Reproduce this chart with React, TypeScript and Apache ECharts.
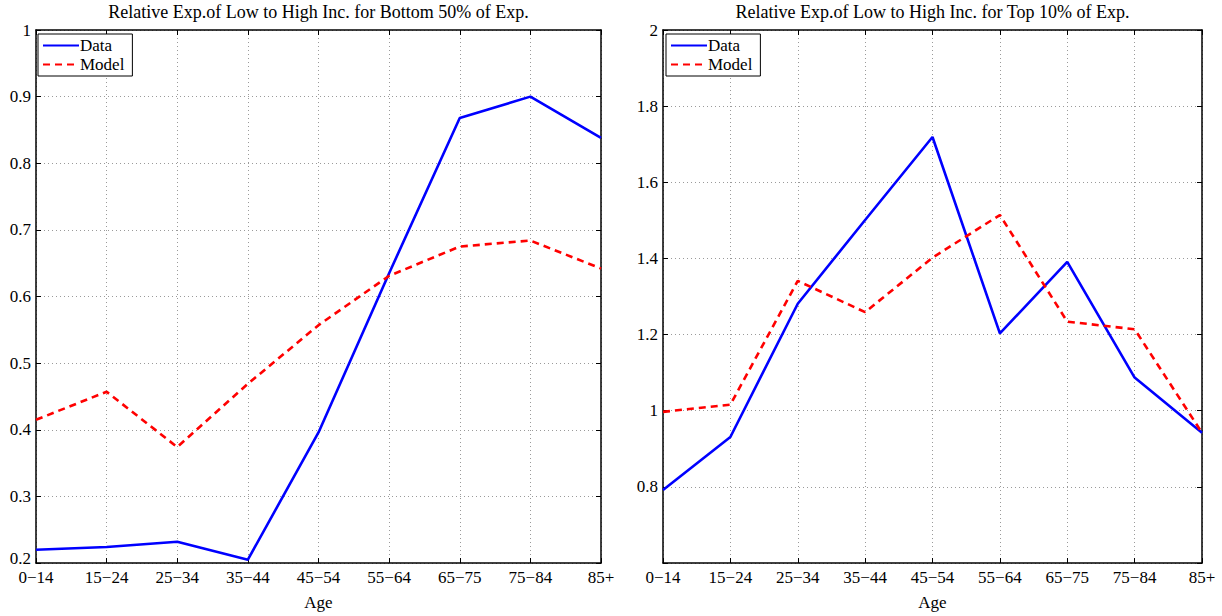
import React, { useEffect, useRef } from "react";
import * as echarts from "echarts";

// Age groups along the horizontal axis
const ageGroups = ["0−14", "15−24", "25−34", "35−44", "45−54", "55−64", "65−75", "75−84", "85+"];

// Bottom 50% of expenditure: relative expenditure of low vs high income
const bottomData = [0.22, 0.224, 0.232, 0.205, 0.396, 0.635, 0.868, 0.9, 0.838];
const bottomModel = [0.415, 0.457, 0.374, 0.469, 0.557, 0.631, 0.675, 0.684, 0.642];

// Top 10% of expenditure
const topData = [0.792, 0.931, 1.281, 1.501, 1.719, 1.203, 1.391, 1.087, 0.942];
const topModel = [0.997, 1.016, 1.341, 1.259, 1.402, 1.514, 1.234, 1.214, 0.942];

const leftTitle = "Relative Exp.of Low to High Inc. for Bottom 50% of Exp.";
const rightTitle = "Relative Exp.of Low to High Inc. for Top 10% of Exp.";
const xName = "Age";
const seriesNames = ["Data", "Model"];

const leftRange = { min: 0.2, max: 1, interval: 0.1 };
const rightRange = { min: 0.6, max: 2, interval: 0.2 };

const FONT = "Liberation Serif";
const W = 1222;
const H = 616;

const grids = [
  { left: 36, top: 30, width: 565, height: 540 },
  { left: 663, top: 30, width: 539, height: 540 },
];

export default function App() {
  const ref = useRef<HTMLDivElement>(null);

  useEffect(() => {
    if (!ref.current) return;
    const chart = echarts.init(ref.current, undefined, { renderer: "svg" });

    // Tick label text; the lowest tick of the left panel is lifted above the corner,
    // the lowest tick of the right panel is left blank.
    const fmt = (panel: number) => (v: number) => {
      const s = String(+v.toFixed(2));
      if (panel === 0 && Math.abs(v - leftRange.min) < 1e-9) return "{lo|" + s + "}";
      if (panel === 1 && Math.abs(v - rightRange.min) < 1e-9) return "";
      return s;
    };

    const frameLine = { show: true, lineStyle: { color: "#000", width: 1.5 } };
    const innerTick = { show: true, inside: true, length: 5, lineStyle: { color: "#000", width: 1 } };
    const dotted = { show: true, lineStyle: { color: "#9a9a9a", type: [1, 3] as any, width: 1 } };

    const xAxes: any[] = [];
    const yAxes: any[] = [];
    [0, 1].forEach((g) => {
      xAxes.push({
        type: "category",
        gridIndex: g,
        data: ageGroups,
        boundaryGap: false,
        position: "bottom",
        name: xName,
        nameLocation: "middle",
        nameGap: 31,
        nameTextStyle: { fontFamily: FONT, fontSize: 17, color: "#000" },
        axisLine: frameLine,
        axisTick: innerTick,
        axisLabel: { fontFamily: FONT, fontSize: 17, color: "#000", margin: 6, interval: 0 },
        splitLine: dotted,
      });
      xAxes.push({
        type: "category",
        gridIndex: g,
        data: ageGroups,
        boundaryGap: false,
        position: "top",
        axisLine: frameLine,
        axisTick: innerTick,
        axisLabel: { show: false },
        splitLine: { show: false },
      });
      const r = g === 0 ? leftRange : rightRange;
      yAxes.push({
        type: "value",
        gridIndex: g,
        position: "left",
        min: r.min,
        max: r.max,
        interval: r.interval,
        axisLine: frameLine,
        axisTick: innerTick,
        axisLabel: {
          fontFamily: FONT,
          fontSize: 17,
          color: "#000",
          margin: 5,
          formatter: fmt(g),
          rich: {
            lo: { fontFamily: FONT, fontSize: 17, color: "#000", padding: [0, 0, 10, 0] },
          },
        },
        splitLine: dotted,
      });
      yAxes.push({
        type: "value",
        gridIndex: g,
        position: "right",
        min: r.min,
        max: r.max,
        interval: r.interval,
        axisLine: frameLine,
        axisTick: innerTick,
        axisLabel: { show: false },
        splitLine: { show: false },
      });
    });

    const dataStyle = { color: "#0000ff", width: 2.6, type: "solid" as const };
    const modelStyle = { color: "#ff0000", width: 2.6, type: [7, 5] as any };

    const mkSeries = (name: string, values: number[], g: number, style: any) => ({
      type: "line",
      name,
      data: values,
      xAxisIndex: g * 2,
      yAxisIndex: g * 2,
      symbol: "none",
      showSymbol: false,
      itemStyle: { color: style.color },
      lineStyle: style,
      z: name === "Data" ? 3 : 4,
    });

    const legendFor = (left: number) => ({
      left,
      top: 34,
      orient: "vertical",
      data: seriesNames,
      backgroundColor: "#fff",
      borderColor: "#000",
      borderWidth: 1,
      padding: [3, 8, 3, 4],
      itemGap: 2,
      itemWidth: 36,
      itemHeight: 18,
      itemStyle: { opacity: 0 },
      textStyle: { fontFamily: FONT, fontSize: 17, color: "#000", padding: [0, 0, 0, -4] },
      selectedMode: false,
    });

    const titleText = (text: string, g: number) => ({
      type: "text",
      x: grids[g].left + grids[g].width / 2,
      y: 3,
      style: {
        text,
        fontFamily: FONT,
        fontSize: 18,
        fill: "#000",
        textAlign: "center",
        textVerticalAlign: "top",
      },
    });

    chart.setOption({
      animation: false,
      backgroundColor: "#fff",
      grid: grids.map((g) => ({ ...g, containLabel: false })),
      xAxis: xAxes,
      yAxis: yAxes,
      legend: [legendFor(grids[0].left + 2), legendFor(grids[1].left + 3)],
      series: [
        mkSeries("Data", bottomData, 0, dataStyle),
        mkSeries("Model", bottomModel, 0, modelStyle),
        mkSeries("Data", topData, 1, dataStyle),
        mkSeries("Model", topModel, 1, modelStyle),
      ],
      graphic: [titleText(leftTitle, 0), titleText(rightTitle, 1)],
    });

    return () => chart.dispose();
  }, []);

  return (
    <div
      ref={ref}
      style={{ position: "fixed", left: 0, top: 0, width: W, height: H, background: "#fff" }}
    />
  );
}
